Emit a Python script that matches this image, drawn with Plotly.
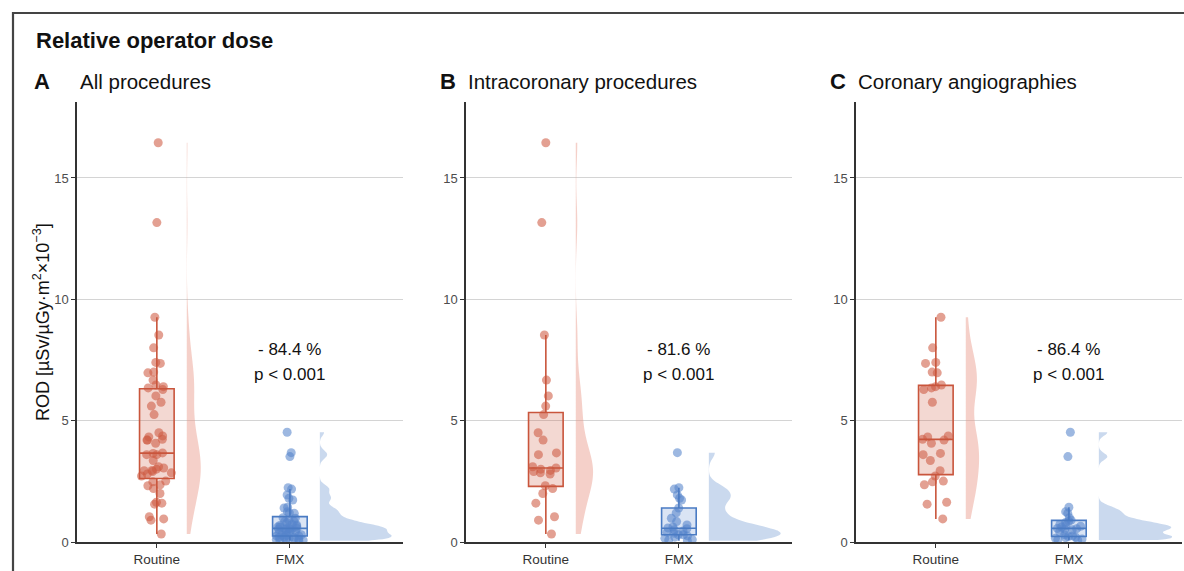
import numpy as np
import plotly.graph_objects as go

W, H = 1184, 571

categories = ["Routine", "FMX"]
panel_letters = ["A", "B", "C"]
panel_titles = ["All procedures", "Intracoronary procedures", "Coronary angiographies"]
reductions = ["- 84.4 %", "- 81.6 %", "- 86.4 %"]
p_values = ["p < 0.001", "p < 0.001", "p < 0.001"]

# Intracoronary procedures (panel B)
routine_intracoronary = [16.45, 13.16, 8.53, 6.67, 6.02, 5.6, 5.25, 4.5, 4.2, 3.67, 3.6, 3.1,
                         3.05, 3.0, 2.95, 2.9, 2.85, 2.8, 2.32, 2.2, 2.0, 1.6, 1.04, 0.9, 0.33]
fmx_intracoronary = [3.68, 2.24, 2.18, 1.94, 1.8, 1.73, 1.4, 1.2, 0.98, 0.84, 0.7, 0.62, 0.58,
                     0.55, 0.5, 0.45, 0.4, 0.36, 0.3, 0.3, 0.25, 0.2, 0.15, 0.1, 0.08, 0.05]
# Coronary angiographies (panel C)
routine_angio = [9.26, 8.0, 7.4, 7.36, 7.0, 6.97, 6.47, 6.4, 6.35, 6.28, 5.76, 4.37, 4.33, 4.23,
                 4.2, 4.07, 3.65, 3.6, 3.36, 2.94, 2.72, 2.51, 2.48, 2.36, 1.64, 1.56, 0.95]
fmx_angio = [4.52, 3.52, 1.43, 1.25, 1.18, 1.0, 0.9, 0.86, 0.8, 0.72, 0.68, 0.65, 0.62, 0.56,
             0.53, 0.55, 0.5, 0.42, 0.3, 0.25, 0.22, 0.2, 0.18, 0.15, 0.12, 0.1, 0.08]
# All procedures (panel A) = both groups together
routine_all = routine_intracoronary + routine_angio
fmx_all = fmx_intracoronary + fmx_angio

panels = [(routine_all, fmx_all), (routine_intracoronary, fmx_intracoronary), (routine_angio, fmx_angio)]

yticks = [0, 5, 10, 15]

RED = "#C9553C"
BLUE = "#4A7BC3"
red_pt = "rgba(206,92,68,0.58)"
blue_pt = "rgba(86,132,203,0.58)"
red_fill = "rgba(206,92,68,0.24)"
blue_fill = "rgba(86,132,203,0.22)"
red_violin = "rgba(232,150,135,0.45)"
blue_violin = "rgba(150,180,222,0.50)"

FONT = "Liberation Sans, Arial, sans-serif"


def nrd0(v):
    v = np.asarray(v, float)
    sd = v.std(ddof=1)
    iqr = np.subtract(*np.percentile(v, [75, 25]))
    return 0.9 * min(sd, iqr / 1.34) * len(v) ** -0.2


def px(x):
    return x / W


def py(y):
    return 1 - y / H


x_domains = [(77, 403), (466, 792), (856, 1182)]
y_dom = [py(542), py(102)]

fig = go.Figure()
violin_halfwidths = [(0.105, 0.54), (0.13, 0.54), (0.10, 0.55)]
bw_factor = (0.85, 0.65)

for i, (rvals, fvals) in enumerate(panels):
    xa = "x" if i == 0 else f"x{i+1}"
    ya = "y" if i == 0 else f"y{i+1}"
    for k, (vals, col, pt, fill, vfill) in enumerate([
            (rvals, RED, red_pt, red_fill, red_violin),
            (fvals, BLUE, blue_pt, blue_fill, blue_violin)]):
        pos = k + 1
        n = len(vals)
        # jittered points (box itself invisible)
        fig.add_trace(go.Box(
            x=[pos] * n, y=vals, xaxis=xa, yaxis=ya,
            boxpoints="all", jitter=1.0, pointpos=0, width=0.26,
            line=dict(color="rgba(0,0,0,0)", width=0), fillcolor="rgba(0,0,0,0)",
            marker=dict(color=pt, size=9, line=dict(width=0)),
            showlegend=False, hoverinfo="y"))
        # box on top
        fig.add_trace(go.Box(
            x=[pos] * n, y=vals, xaxis=xa, yaxis=ya,
            boxpoints="outliers", width=0.26, whiskerwidth=0,
            line=dict(color=col, width=1.6), fillcolor=fill,
            marker=dict(color="rgba(0,0,0,0)", size=1, line=dict(width=0)),
            showlegend=False, hoverinfo="skip"))
        # half violin
        fig.add_trace(go.Violin(
            x=[pos + 0.225] * n, y=vals, xaxis=xa, yaxis=ya,
            side="positive", width=violin_halfwidths[i][k] * 2,
            points=False, box_visible=False, meanline_visible=False,
            spanmode="hard", bandwidth=nrd0(vals) * bw_factor[k], scalemode="width",
            line=dict(width=0, color=vfill), fillcolor=vfill,
            showlegend=False, hoverinfo="skip"))

axis_common_y = dict(range=[0, 18.13], tickvals=yticks, showgrid=True, gridcolor="#d4d4d4",
                     gridwidth=1, zeroline=False, showline=True, linecolor="#333333", linewidth=1.5,
                     ticks="outside", ticklen=4, tickcolor="#333333", tickwidth=1.2, automargin=False,
                     tickfont=dict(size=13, color="#4d4d4d", family=FONT), fixedrange=True)
axis_common_x = dict(range=[0.4, 2.85], tickvals=[1, 2], ticktext=categories, type="linear",
                     showgrid=False, zeroline=False, showline=True, linecolor="#333333", linewidth=1.5,
                     ticks="outside", ticklen=4, tickcolor="#333333", tickwidth=1.2, automargin=False,
                     tickfont=dict(size=13.5, color="#333333", family=FONT), fixedrange=True)

layout = dict(width=W, height=H, margin=dict(l=0, r=0, t=0, b=0, autoexpand=False),
              paper_bgcolor="white", plot_bgcolor="white",
              font=dict(family=FONT, color="#1a1a1a"),
              boxmode="overlay", violinmode="overlay", showlegend=False)
for i, (a, b) in enumerate(x_domains):
    sx = "" if i == 0 else str(i + 1)
    layout["xaxis" + sx] = dict(axis_common_x, domain=[px(a), px(b)], anchor="y" + sx)
    layout["yaxis" + sx] = dict(axis_common_y, domain=y_dom, anchor="x" + sx)
fig.update_layout(**layout)

annotations = []
annotations.append(dict(text="<b>Relative operator dose</b>", x=px(34), y=py(40), xref="paper", yref="paper",
                        xanchor="left", yanchor="middle", showarrow=False, font=dict(size=22, color="#111111")))
letter_x = [32, 438, 828]
title_x = [78, 466, 856]
for i in range(3):
    annotations.append(dict(text=f"<b>{panel_letters[i]}</b>", x=px(letter_x[i]), y=py(82), xref="paper",
                            yref="paper", xanchor="left", yanchor="middle", showarrow=False,
                            font=dict(size=22, color="#111111")))
    annotations.append(dict(text=panel_titles[i], x=px(title_x[i]), y=py(82), xref="paper", yref="paper",
                            xanchor="left", yanchor="middle", showarrow=False,
                            font=dict(size=20.5, color="#111111")))
    sx = "" if i == 0 else str(i + 1)
    annotations.append(dict(text=reductions[i], x=2, y=7.95, xref="x" + sx, yref="y" + sx,
                            xanchor="center", yanchor="middle", showarrow=False,
                            font=dict(size=17, color="#111111")))
    annotations.append(dict(text=p_values[i], x=2, y=6.92, xref="x" + sx, yref="y" + sx,
                            xanchor="center", yanchor="middle", showarrow=False,
                            font=dict(size=17, color="#111111")))
annotations.append(dict(text="ROD [µSv/µGy·m<sup>2</sup>×10<sup>−3</sup>]", x=px(41), y=py(322),
                        xref="paper", yref="paper", xanchor="center", yanchor="middle", textangle=-90,
                        showarrow=False, font=dict(size=18, color="#111111")))
fig.update_layout(annotations=annotations)

fig.add_shape(type="rect", xref="paper", yref="paper", x0=px(13), x1=px(1200), y0=py(590), y1=py(13),
              line=dict(color="#444444", width=2.2), fillcolor="rgba(0,0,0,0)", layer="above")

fig.write_html("out.html", config={"displayModeBar": False},
               post_script="document.body.style.margin='0';document.body.style.overflow='hidden';")
